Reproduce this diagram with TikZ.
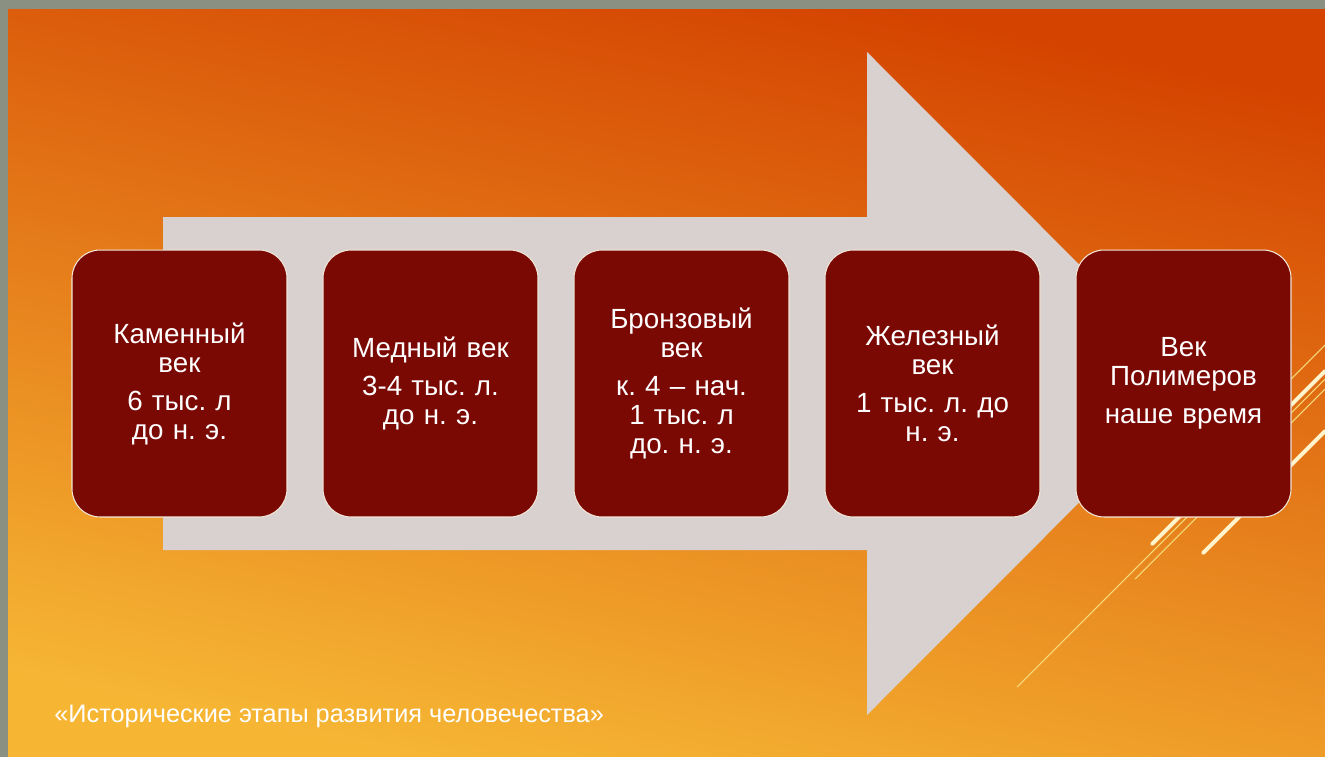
\documentclass[tikz,border=0pt]{standalone}
\usepackage{fontspec}
\setmainfont{Liberation Sans}
\usepackage{xcolor}
\usetikzlibrary{positioning}

\definecolor{frameGray}{HTML}{8A9183}
\definecolor{orangeTop}{HTML}{D44300}
\definecolor{orangeMid}{HTML}{E47A1A}
\definecolor{orangeLow}{HTML}{F6B634}
\definecolor{arrowGray}{HTML}{D9D1D0}
\definecolor{ageRed}{HTML}{7A0803}
\definecolor{edgeCream}{HTML}{F2E6D8}
\definecolor{stripeCream}{HTML}{FFF4CC}
\definecolor{stripeYellow}{HTML}{F5DC7A}

\newcommand{\pgap}{\\[0.18cm]}
\frenchspacing

\begin{document}
\begin{tikzpicture}
  [
    x = 0.02cm, y = -0.02cm,
    node distance = 0.7cm,
    age/.style = {draw = edgeCream, line width = 0.6pt, fill = ageRed,
                  rounded corners = 0.56cm, minimum width = 4.3cm,
                  minimum height = 5.34cm, text width = 4cm, align = center,
                  inner sep = 0pt, text = white,
                  font = \fontsize{15.8pt}{16.5pt}\selectfont},
    caption/.style = {text = white, inner sep = 0pt,
                  font = \fontsize{14.4pt}{16pt}\selectfont},
    thickstripe/.style = {draw = stripeCream, line width = 2.2pt, line cap = round},
    thinstripe/.style = {draw = stripeYellow, line width = 0.6pt},
  ]

  \useasboundingbox (0,0) rectangle (1325,757);

  % background
  \fill[frameGray] (0,0) rectangle (1325,757);
  \shade[shading = axis, top color = orangeTop, middle color = orangeMid,
         bottom color = orangeLow, shading angle = -12] (8,10) rectangle (1325,757);

  % stripes behind the last box
  \draw[thickstripe] (1152,544) -- (1325,371);
  \draw[thickstripe] (1203,553) -- (1325,431);
  \draw[thinstripe] (1017,687) -- (1325,379);
  \draw[thinstripe] (1135,579) -- (1325,389);
  \draw[thinstripe] (1255,415) -- (1325,345);

  % big arrow
  \fill[arrowGray] (163,217) -- (867,217) -- (867,52) -- (1198,383.5)
    -- (867,715) -- (867,550) -- (163,550) -- cycle;

  \node[age] (stone) at (179.5,383.5) {Каменный\\век\pgap 6 тыс. л\\до н. э.};
  \node[age] [right = of stone] (copper) {Медный век\pgap 3-4 тыс. л.\\до н. э.};
  \node[age] [right = of copper] (bronze) {Бронзовый\\век\pgap к. 4 – нач.\\1 тыс. л\\до. н. э.};
  \node[age] [right = of bronze] (iron) {Железный\\век\pgap 1 тыс. л. до\\н. э.};
  \node[age] [right = of iron] (polymer) {Век\\Полимеров\pgap наше время};

  \node[caption, anchor = base west] (title) at (54,722)
    {«Исторические этапы развития человечества»};

\end{tikzpicture}
\end{document}
